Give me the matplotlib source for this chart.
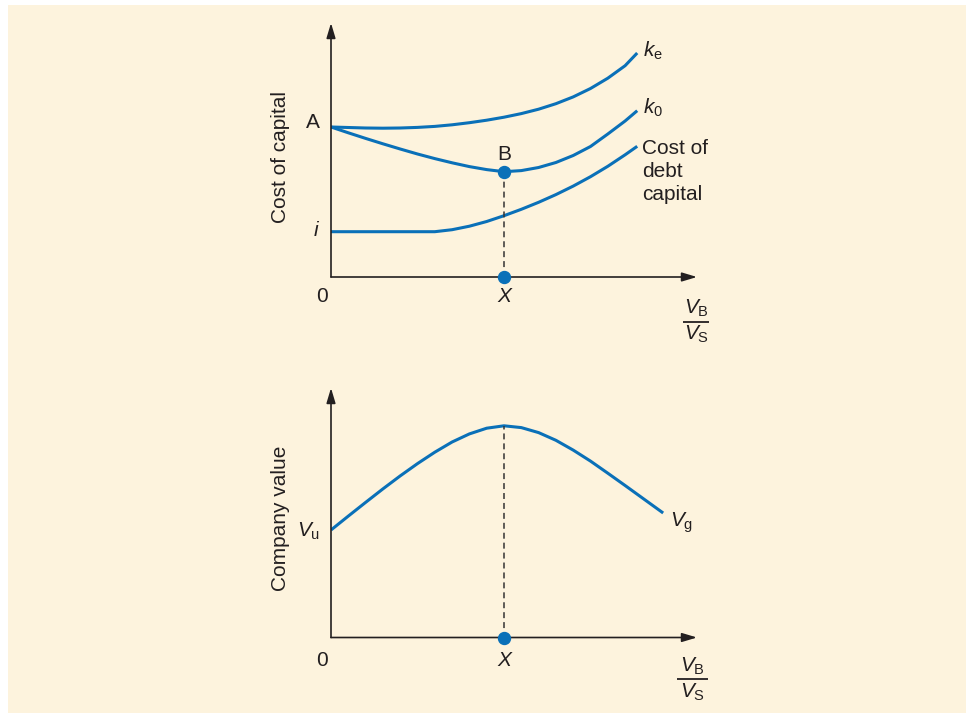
import matplotlib
matplotlib.use("Agg")
import matplotlib.pyplot as plt
from matplotlib.patches import Rectangle

plt.rcParams['font.family'] = ['Liberation Sans', 'DejaVu Sans']
plt.rcParams['mathtext.fontset'] = 'custom'
plt.rcParams['mathtext.rm'] = 'Liberation Sans'
plt.rcParams['mathtext.it'] = 'Liberation Sans:italic'
plt.rcParams['mathtext.bf'] = 'Liberation Sans:bold'

# ---- data ---------------------------------------------------------------
# leverage ratio V_B / V_S (optimum X = 1)
lev = [0.0, 0.1, 0.2, 0.3, 0.4, 0.5, 0.6, 0.7, 0.8, 0.9, 1.0,
       1.1, 1.2, 1.3, 1.4, 1.5, 1.6, 1.7, 1.77]

# cost of equity k_e
cost_equity = [15.0, 14.95, 14.9, 14.88, 14.9, 14.96, 15.06, 15.22, 15.43,
               15.68, 15.98, 16.34, 16.78, 17.33, 18.01, 18.85, 19.88, 21.13,
               22.4]

# weighted average cost of capital k_0
cost_wacc = [15.0, 14.42, 13.86, 13.32, 12.8, 12.3, 11.84, 11.42, 11.04,
             10.74, 10.53, 10.64, 10.95, 11.45, 12.15, 13.05, 14.3, 15.6,
             16.63]

# cost of debt capital (flat at i, then rising)
lev_debt = [0.0, 0.6, 0.7, 0.8, 0.9, 1.0, 1.1, 1.2, 1.3, 1.4, 1.5, 1.6, 1.7,
            1.77]
cost_debt = [4.53, 4.53, 4.73, 5.08, 5.55, 6.13, 6.77, 7.47, 8.24, 9.09,
             10.03, 11.07, 12.22, 13.07]

# company value
lev_value = [0.0, 0.1, 0.2, 0.3, 0.4, 0.5, 0.6, 0.7, 0.8, 0.9, 1.0,
             1.1, 1.2, 1.3, 1.4, 1.5, 1.6, 1.7, 1.8, 1.92]
company_value = [10.75, 12.14, 13.51, 14.86, 16.16, 17.39, 18.53, 19.55,
                 20.36, 20.93, 21.17, 20.99, 20.49, 19.72, 18.74, 17.64,
                 16.43, 15.2, 13.95, 12.45]

x_opt = 1.0
b_cost = 10.53
peak_value = 21.17

# ---- styling ------------------------------------------------------------
BLUE = '#0a70b8'
INK = '#231f20'
CREAM = '#fdf3dd'
FS = 15

W, H = 972, 719
fig = plt.figure(figsize=(W / 100, H / 100), dpi=100)
fig.patch.set_facecolor('white')
fig.add_artist(Rectangle((8 / W, 6 / H), (966 - 8) / W, (714 - 6) / H,
                         transform=fig.transFigure, facecolor=CREAM,
                         edgecolor='none', zorder=-10))


def px_axes(left, bottom, right, top):
    return fig.add_axes([left / W, 1 - bottom / H, (right - left) / W,
                         (bottom - top) / H])


def bare(ax, xmax, ymax):
    ax.set_xlim(0, xmax)
    ax.set_ylim(0, ymax)
    ax.set_facecolor('none')
    for s in ax.spines.values():
        s.set_visible(False)
    ax.set_xticks([])
    ax.set_yticks([])
    arrow = dict(arrowstyle='-|>,head_length=0.9,head_width=0.27',
                 lw=1.2, color=INK, shrinkA=0, shrinkB=0, mutation_scale=10)
    ax.annotate('', xy=(1, 0), xytext=(0, 0), xycoords='axes fraction',
                arrowprops=arrow, annotation_clip=False)
    ax.annotate('', xy=(0, 1), xytext=(0, 0), xycoords='axes fraction',
                arrowprops=arrow, annotation_clip=False)


def fraction(ax, xc, y_num, y_bar, y_den, half):
    ax.text(xc, y_num, r'$V_\mathrm{B}$', fontsize=FS, color=INK,
            ha='center', va='baseline')
    ax.plot([xc - half, xc + half], [y_bar, y_bar], color=INK, lw=1.3,
            clip_on=False, solid_capstyle='butt')
    ax.text(xc, y_den, r'$V_\mathrm{S}$', fontsize=FS, color=INK,
            ha='center', va='baseline')


dash = (0, (3.9, 2.6))
curve = dict(color=BLUE, lw=2.2, solid_capstyle='butt',
             solid_joinstyle='round')

# ---- top: cost of capital ----------------------------------------------
ax1 = px_axes(331, 277, 697, 23)
bare(ax1, 366 / 173, 25.4)

ax1.plot(lev, cost_equity, **curve)
ax1.plot(lev, cost_wacc, **curve)
ax1.plot(lev_debt, cost_debt, **curve)
ax1.plot([x_opt, x_opt], [0, b_cost], color='#333333', lw=1.1, linestyle=dash)
ax1.plot([x_opt, x_opt], [b_cost, 0], linestyle='none', marker='o',
         markersize=8.6, color=BLUE, clip_on=False, zorder=5)

ax1.set_ylabel('Cost of capital', fontsize=FS, color=INK)
ax1.yaxis.set_label_coords(-0.138, 0.472)
ax1.yaxis.label.set_va('center')

ax1.text(-0.062, 15.45, 'A', fontsize=FS, color=INK, ha='right', va='center')
ax1.text(-0.087, 4.6, 'i', fontsize=FS, color=INK, style='italic',
         ha='center', va='center')
ax1.text(x_opt, 12.2, 'B', fontsize=FS, color=INK, ha='center', va='center')
ax1.text(-0.052, -1.9, '0', fontsize=FS, color=INK, ha='center', va='center')
ax1.text(x_opt, -1.9, 'X', fontsize=FS, color=INK, style='italic',
         ha='center', va='center')
ax1.text(1.803, 22.0, r'$k_\mathrm{e}$', fontsize=FS, color=INK,
         ha='left', va='baseline')
ax1.text(1.803, 16.3, r'$k_0$', fontsize=FS, color=INK,
         ha='left', va='baseline')
ax1.text(1.797, 13.85, 'Cost of\ndebt\ncapital', fontsize=FS, color=INK,
         ha='left', va='top', linespacing=1.3)
fraction(ax1, 2.11, -3.7, -4.47, -6.3, 0.075)

# ---- bottom: company value ---------------------------------------------
ax2 = px_axes(331, 637.5, 697, 388)
bare(ax2, 366 / 173, 24.95)

ax2.plot(lev_value, company_value, **curve)
ax2.plot([x_opt, x_opt], [0, peak_value], color='#333333', lw=1.1,
         linestyle=dash)
ax2.plot([x_opt], [0], linestyle='none', marker='o', markersize=8.6,
         color=BLUE, clip_on=False, zorder=5)

ax2.set_ylabel('Company value', fontsize=FS, color=INK)
ax2.yaxis.set_label_coords(-0.138, 0.479)
ax2.yaxis.label.set_va('center')

ax2.text(-0.062, 10.05, r'$V_\mathrm{u}$', fontsize=FS, color=INK,
         ha='right', va='baseline')
ax2.text(1.96, 11.05, r'$V_\mathrm{g}$', fontsize=FS, color=INK,
         ha='left', va='baseline')
ax2.text(-0.052, -2.25, '0', fontsize=FS, color=INK, ha='center', va='center')
ax2.text(x_opt, -2.3, 'X', fontsize=FS, color=INK, style='italic',
         ha='center', va='center')
fraction(ax2, 2.09, -3.45, -4.15, -6.05, 0.09)

fig.savefig('out.png', dpi=100, facecolor=fig.get_facecolor())
